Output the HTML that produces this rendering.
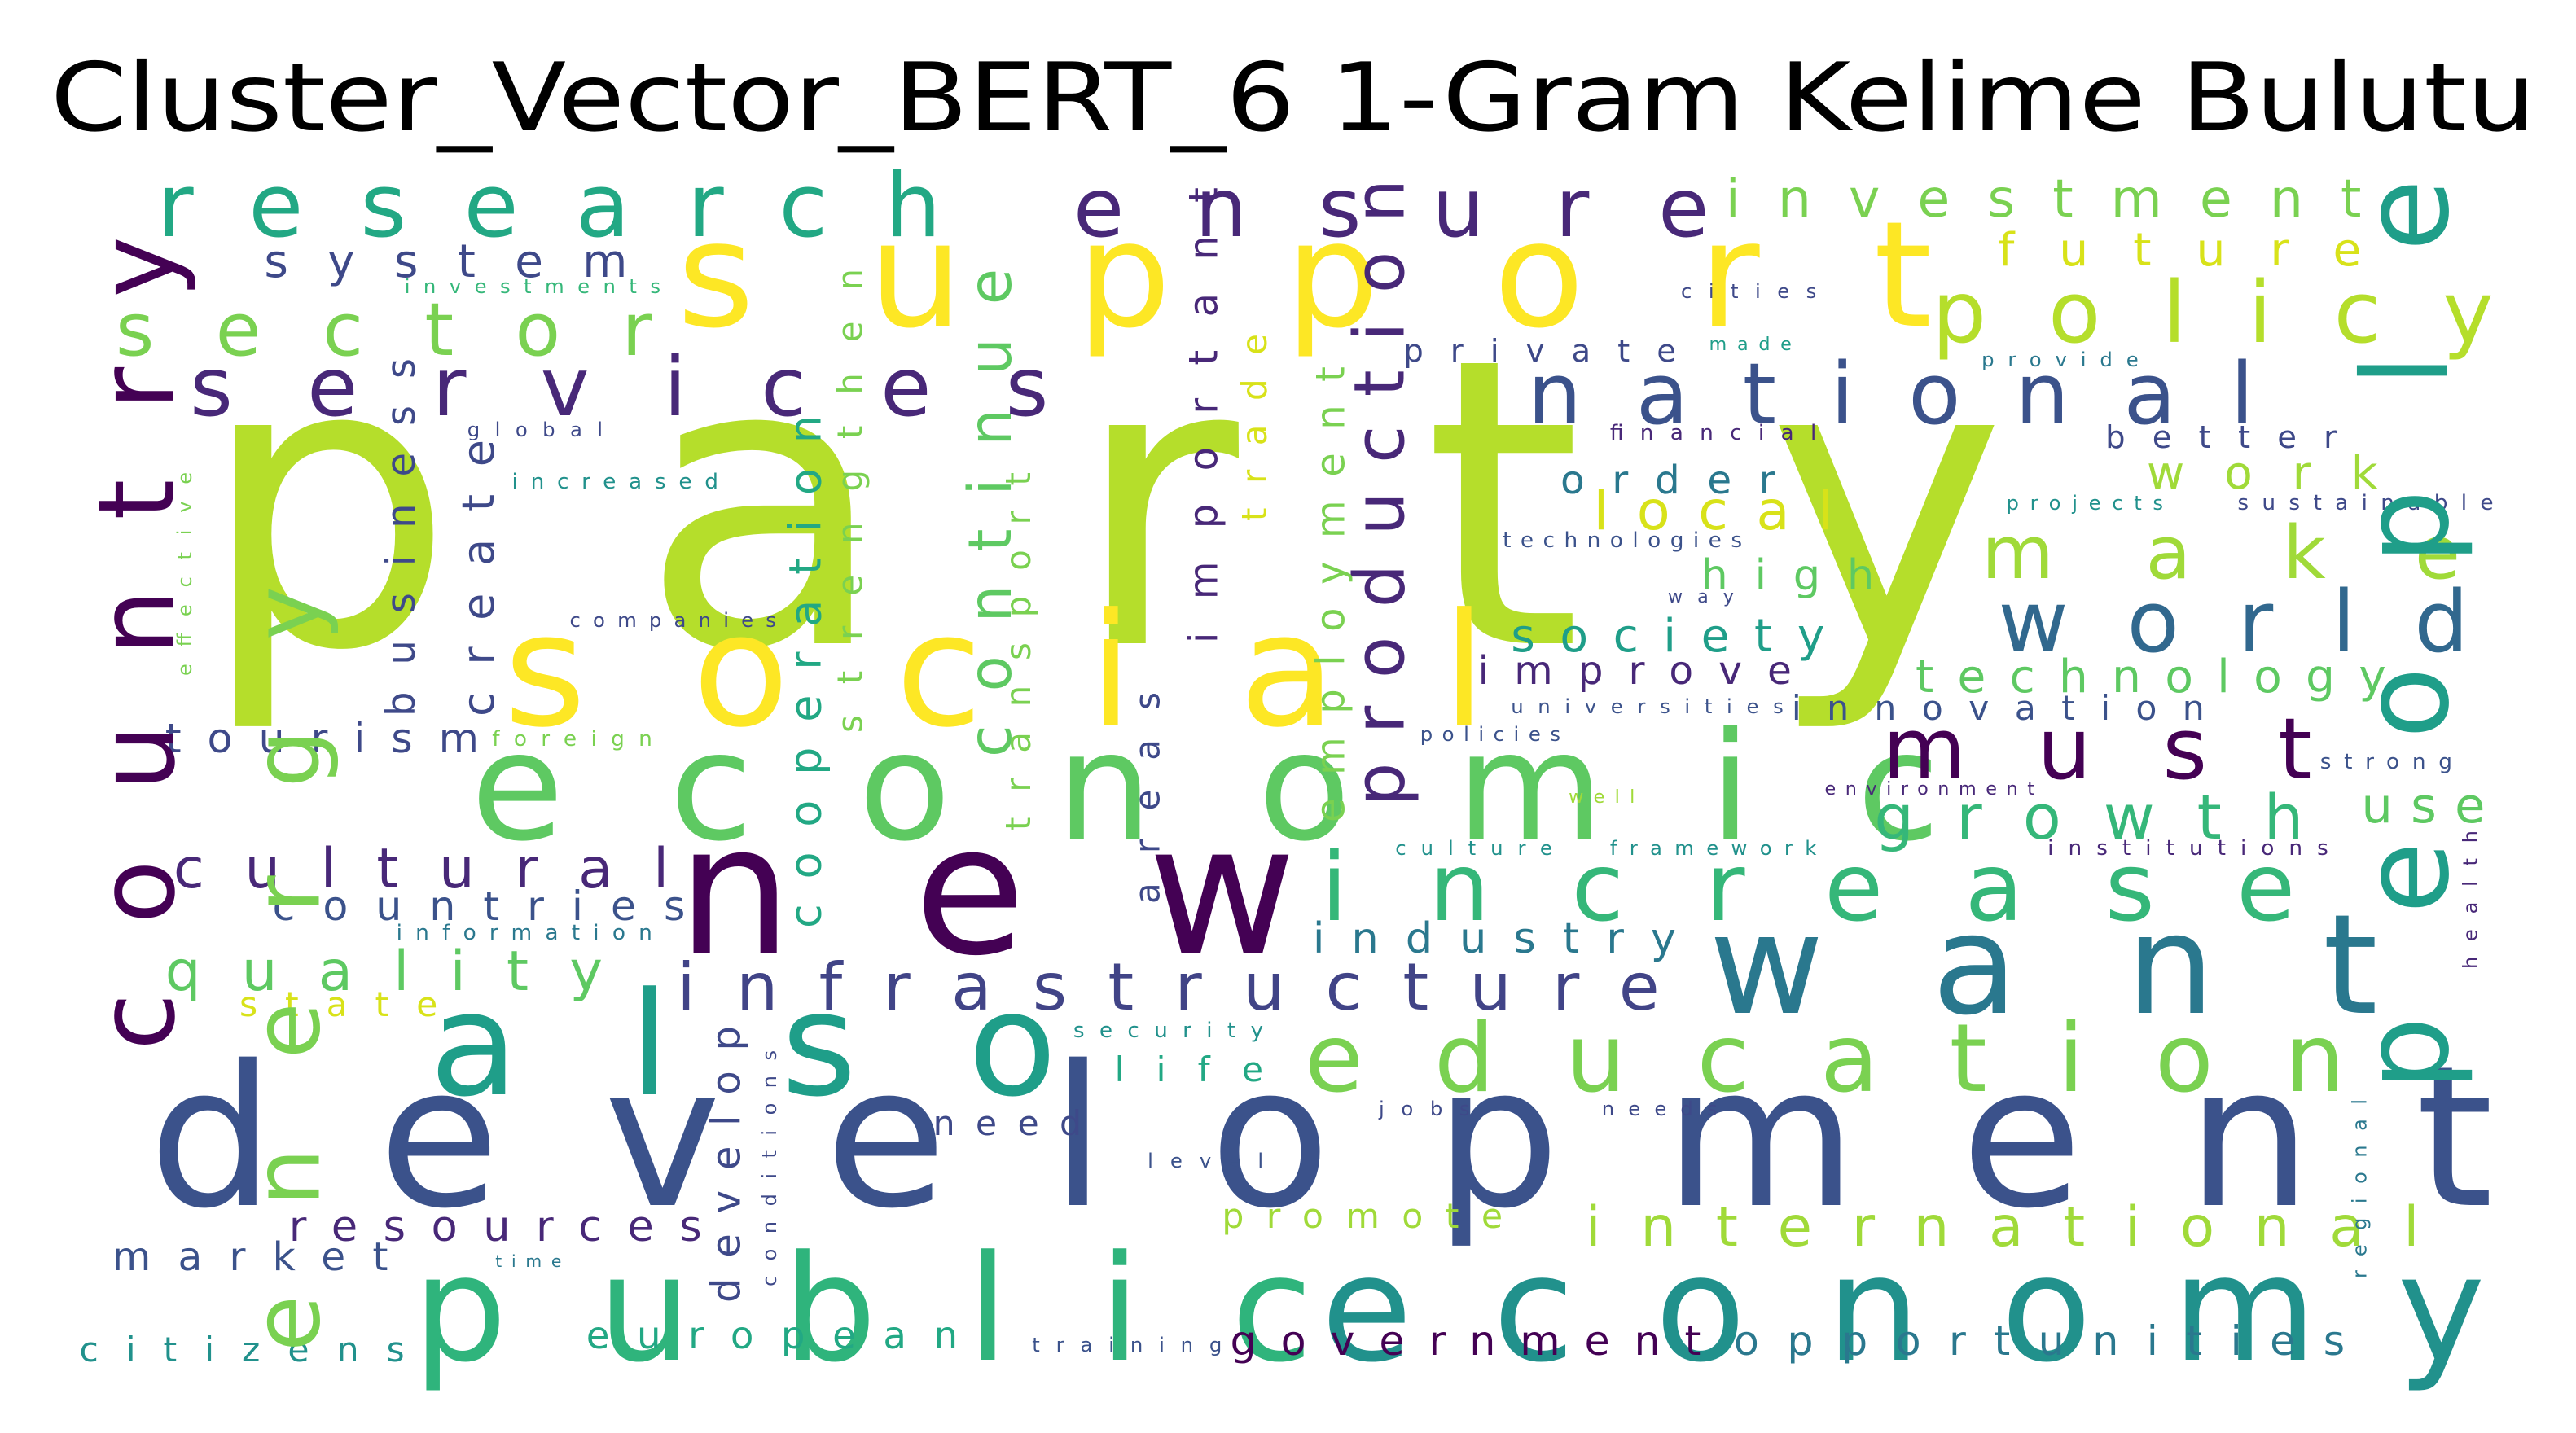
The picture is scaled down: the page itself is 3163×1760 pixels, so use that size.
<!DOCTYPE html>
<html><head><meta charset="utf-8"><style>
html,body{margin:0;padding:0;background:#fff;}
svg{display:block}
text{font-family:"DejaVu Sans","Liberation Sans",sans-serif;}
</style></head><body>
<svg width="3163" height="1760" viewBox="0 0 1560 880" preserveAspectRatio="none" xmlns="http://www.w3.org/2000/svg">
<rect width="1560" height="880" fill="#fff"/>
<text x="783" y="80" font-size="58" text-anchor="middle" fill="#000" textLength="1505" lengthAdjust="spacingAndGlyphs">Cluster_Vector_BERT_6 1-Gram Kelime Bulutu</text>
<g>
<text x="120" y="395" font-size="245" fill="#b5de2b" textLength="1095" lengthAdjust="spacing">party</text>
<text x="410" y="200" font-size="90" fill="#fde725" textLength="760" lengthAdjust="spacing">support</text>
<text x="305" y="445" font-size="96" fill="#fde725" textLength="595" lengthAdjust="spacing">social</text>
<text x="285" y="515" font-size="92" fill="#5ec962" textLength="890" lengthAdjust="spacing">economic</text>
<text x="410" y="585" font-size="110" fill="#440154" textLength="375" lengthAdjust="spacing">new</text>
<text x="90" y="740" font-size="120" fill="#3b528b" textLength="1420" lengthAdjust="spacing">development</text>
<text x="250" y="835" font-size="90" fill="#2fb47c" textLength="545" lengthAdjust="spacing">public</text>
<text x="800" y="835" font-size="90" fill="#21918c" textLength="705" lengthAdjust="spacing">economy</text>
<text x="260" y="672" font-size="88" fill="#1f9e89" textLength="380" lengthAdjust="spacing">also</text>
<text x="1035" y="622" font-size="85" fill="#2a788e" textLength="405" lengthAdjust="spacing">want</text>
<text x="800" y="565" font-size="58" fill="#35b779" textLength="590" lengthAdjust="spacing">increase</text>
<text x="790" y="670" font-size="58" fill="#7ad151" textLength="630" lengthAdjust="spacing">education</text>
<text x="960" y="765" font-size="34" fill="#a0da39" textLength="505" lengthAdjust="spacing">international</text>
<text x="410" y="620" font-size="40" fill="#414487" textLength="595" lengthAdjust="spacing">infrastructure</text>
<text x="925" y="260" font-size="52" fill="#3b528b" textLength="440" lengthAdjust="spacing">national</text>
<text x="1170" y="210" font-size="52" fill="#b5de2b" textLength="340" lengthAdjust="spacing">policy</text>
<text x="95" y="145" font-size="54" fill="#22a884" textLength="475" lengthAdjust="spacing">research</text>
<text x="650" y="145" font-size="50" fill="#482878" textLength="385" lengthAdjust="spacing">ensure</text>
<text x="115" y="255" font-size="50" fill="#482878" textLength="520" lengthAdjust="spacing">services</text>
<text x="70" y="218" font-size="45" fill="#7ad151" textLength="325" lengthAdjust="spacing">sector</text>
<text x="160" y="170" font-size="28" fill="#3e4989" textLength="220" lengthAdjust="spacing">system</text>
<text x="1045" y="133" font-size="32" fill="#7ad151" textLength="385" lengthAdjust="spacing">investment</text>
<text x="1210" y="163" font-size="28" fill="#d8e219" textLength="220" lengthAdjust="spacing">future</text>
<text x="1210" y="400" font-size="52" fill="#31688e" textLength="285" lengthAdjust="spacing">world</text>
<text x="1200" y="355" font-size="45" fill="#a0da39" textLength="290" lengthAdjust="spacing">make</text>
<text x="1140" y="478" font-size="52" fill="#440154" textLength="260" lengthAdjust="spacing">must</text>
<text x="1135" y="515" font-size="38" fill="#35b779" textLength="260" lengthAdjust="spacing">growth</text>
<text x="1430" y="505" font-size="30" fill="#5ec962" textLength="75" lengthAdjust="spacing">use</text>
<text x="1160" y="425" font-size="28" fill="#5ec962" textLength="285" lengthAdjust="spacing">technology</text>
<text x="1085" y="442" font-size="21" fill="#3b528b" textLength="250" lengthAdjust="spacing">innovation</text>
<text x="915" y="400" font-size="28" fill="#1f9e89" textLength="190" lengthAdjust="spacing">society</text>
<text x="895" y="420" font-size="24" fill="#482878" textLength="190" lengthAdjust="spacing">improve</text>
<text x="1030" y="362" font-size="26" fill="#5ec962" textLength="105" lengthAdjust="spacing">high</text>
<text x="965" y="325" font-size="33" fill="#d8e219" textLength="145" lengthAdjust="spacing">local</text>
<text x="945" y="303" font-size="24" fill="#2a788e" textLength="130" lengthAdjust="spacing">order</text>
<text x="1300" y="300" font-size="28" fill="#a0da39" textLength="140" lengthAdjust="spacing">work</text>
<text x="1275" y="275" font-size="19" fill="#3e4989" textLength="140" lengthAdjust="spacing">better</text>
<text x="850" y="222" font-size="19" fill="#3e4989" textLength="165" lengthAdjust="spacing">private</text>
<text x="975" y="270" font-size="13" fill="#482878" textLength="125" lengthAdjust="spacing">financial</text>
<text x="910" y="336" font-size="13" fill="#3b528b" textLength="145" lengthAdjust="spacing">technologies</text>
<text x="1010" y="370" font-size="11" fill="#3e4989" textLength="40" lengthAdjust="spacing">way</text>
<text x="915" y="438" font-size="12" fill="#3b528b" textLength="165" lengthAdjust="spacing">universities</text>
<text x="860" y="455" font-size="12" fill="#3b528b" textLength="85" lengthAdjust="spacing">policies</text>
<text x="1105" y="488" font-size="11" fill="#482878" textLength="127" lengthAdjust="spacing">environment</text>
<text x="950" y="493" font-size="11" fill="#a0da39" textLength="40" lengthAdjust="spacing">well</text>
<text x="845" y="525" font-size="12" fill="#21918c" textLength="95" lengthAdjust="spacing">culture</text>
<text x="975" y="525" font-size="12" fill="#21918c" textLength="125" lengthAdjust="spacing">framework</text>
<text x="1240" y="525" font-size="13" fill="#482878" textLength="170" lengthAdjust="spacing">institutions</text>
<text x="1405" y="472" font-size="13" fill="#3b528b" textLength="80" lengthAdjust="spacing">strong</text>
<text x="1018" y="183" font-size="12" fill="#3e4989" textLength="82" lengthAdjust="spacing">cities</text>
<text x="1035" y="215" font-size="11" fill="#1f9e89" textLength="50" lengthAdjust="spacing">made</text>
<text x="1200" y="225" font-size="12" fill="#2a788e" textLength="95" lengthAdjust="spacing">provide</text>
<text x="1215" y="313" font-size="12" fill="#21918c" textLength="95" lengthAdjust="spacing">projects</text>
<text x="1355" y="313" font-size="13" fill="#3e4989" textLength="155" lengthAdjust="spacing">sustainable</text>
<text x="795" y="585" font-size="26" fill="#2a788e" textLength="220" lengthAdjust="spacing">industry</text>
<text x="650" y="637" font-size="13" fill="#21918c" textLength="115" lengthAdjust="spacing">security</text>
<text x="675" y="664" font-size="21" fill="#22a884" textLength="90" lengthAdjust="spacing">life</text>
<text x="835" y="685" font-size="12" fill="#3e4989" textLength="55" lengthAdjust="spacing">jobs</text>
<text x="970" y="685" font-size="12" fill="#3e4989" textLength="70" lengthAdjust="spacing">needs</text>
<text x="565" y="697" font-size="21" fill="#3e4989" textLength="90" lengthAdjust="spacing">need</text>
<text x="695" y="717" font-size="12" fill="#3b528b" textLength="70" lengthAdjust="spacing">level</text>
<text x="740" y="754" font-size="21" fill="#a0da39" textLength="170" lengthAdjust="spacing">promote</text>
<text x="745" y="832" font-size="25" fill="#440154" textLength="285" lengthAdjust="spacing">government</text>
<text x="1050" y="832" font-size="25" fill="#2a788e" textLength="370" lengthAdjust="spacing">opportunities</text>
<text x="625" y="830" font-size="12" fill="#3b528b" textLength="115" lengthAdjust="spacing">training</text>
<text x="355" y="828" font-size="23" fill="#22a884" textLength="225" lengthAdjust="spacing">european</text>
<text x="300" y="778" font-size="10" fill="#2a788e" textLength="40" lengthAdjust="spacing">time</text>
<text x="68" y="780" font-size="24" fill="#3b528b" textLength="167" lengthAdjust="spacing">market</text>
<text x="175" y="762" font-size="26" fill="#482878" textLength="250" lengthAdjust="spacing">resources</text>
<text x="48" y="836" font-size="21" fill="#21918c" textLength="197" lengthAdjust="spacing">citizens</text>
<text x="105" y="545" font-size="34" fill="#482878" textLength="300" lengthAdjust="spacing">cultural</text>
<text x="165" y="565" font-size="25" fill="#3b528b" textLength="250" lengthAdjust="spacing">countries</text>
<text x="240" y="577" font-size="13" fill="#2a788e" textLength="155" lengthAdjust="spacing">information</text>
<text x="100" y="608" font-size="34" fill="#5ec962" textLength="265" lengthAdjust="spacing">quality</text>
<text x="145" y="624" font-size="21" fill="#d8e219" textLength="120" lengthAdjust="spacing">state</text>
<text x="100" y="462" font-size="25" fill="#3e4989" textLength="190" lengthAdjust="spacing">tourism</text>
<text x="298" y="458" font-size="13" fill="#7ad151" textLength="97" lengthAdjust="spacing">foreign</text>
<text x="345" y="385" font-size="12" fill="#3e4989" textLength="125" lengthAdjust="spacing">companies</text>
<text x="310" y="300" font-size="13" fill="#21918c" textLength="125" lengthAdjust="spacing">increased</text>
<text x="283" y="268" font-size="12" fill="#3e4989" textLength="82" lengthAdjust="spacing">global</text>
<text x="245" y="180" font-size="12" fill="#35b779" textLength="155" lengthAdjust="spacing">investments</text>

<text transform="translate(105,645) rotate(-90)" font-size="64" fill="#440154" textLength="500" lengthAdjust="spacing">country</text>
<text transform="translate(193,830) rotate(-90)" font-size="56" fill="#7ad151" textLength="470" lengthAdjust="spacing">energy</text>
<text transform="translate(1482,670) rotate(-90)" font-size="72" fill="#1f9e89" textLength="560" lengthAdjust="spacing">people</text>
<text transform="translate(850,495) rotate(-90)" font-size="42" fill="#482878" textLength="385" lengthAdjust="spacing">production</text>
<text transform="translate(814,505) rotate(-90)" font-size="24" fill="#7ad151" textLength="280" lengthAdjust="spacing">employment</text>
<text transform="translate(737,395) rotate(-90)" font-size="24" fill="#482878" textLength="280" lengthAdjust="spacing">important</text>
<text transform="translate(767,320) rotate(-90)" font-size="21" fill="#d8e219" textLength="115" lengthAdjust="spacing">trade</text>
<text transform="translate(612,465) rotate(-90)" font-size="36" fill="#5ec962" textLength="300" lengthAdjust="spacing">continue</text>
<text transform="translate(624,510) rotate(-90)" font-size="21" fill="#7ad151" textLength="220" lengthAdjust="spacing">transport</text>
<text transform="translate(522,450) rotate(-90)" font-size="21" fill="#7ad151" textLength="285" lengthAdjust="spacing">strengthen</text>
<text transform="translate(497,570) rotate(-90)" font-size="27" fill="#22a884" textLength="315" lengthAdjust="spacing">cooperation</text>
<text transform="translate(702,555) rotate(-90)" font-size="21" fill="#3e4989" textLength="130" lengthAdjust="spacing">areas</text>
<text transform="translate(251,440) rotate(-90)" font-size="24" fill="#3e4989" textLength="220" lengthAdjust="spacing">business</text>
<text transform="translate(299,440) rotate(-90)" font-size="27" fill="#3e4989" textLength="170" lengthAdjust="spacing">create</text>
<text transform="translate(116,415) rotate(-90)" font-size="12" fill="#7ad151" textLength="125" lengthAdjust="spacing">effective</text>
<text transform="translate(448,800) rotate(-90)" font-size="24" fill="#3e4989" textLength="170" lengthAdjust="spacing">develop</text>
<text transform="translate(470,790) rotate(-90)" font-size="12" fill="#3e4989" textLength="145" lengthAdjust="spacing">conditions</text>
<text transform="translate(1433,785) rotate(-90)" font-size="12" fill="#2a788e" textLength="110" lengthAdjust="spacing">regional</text>
<text transform="translate(1500,595) rotate(-90)" font-size="12" fill="#482878" textLength="85" lengthAdjust="spacing">health</text>
</g>
</svg>
</body></html>
